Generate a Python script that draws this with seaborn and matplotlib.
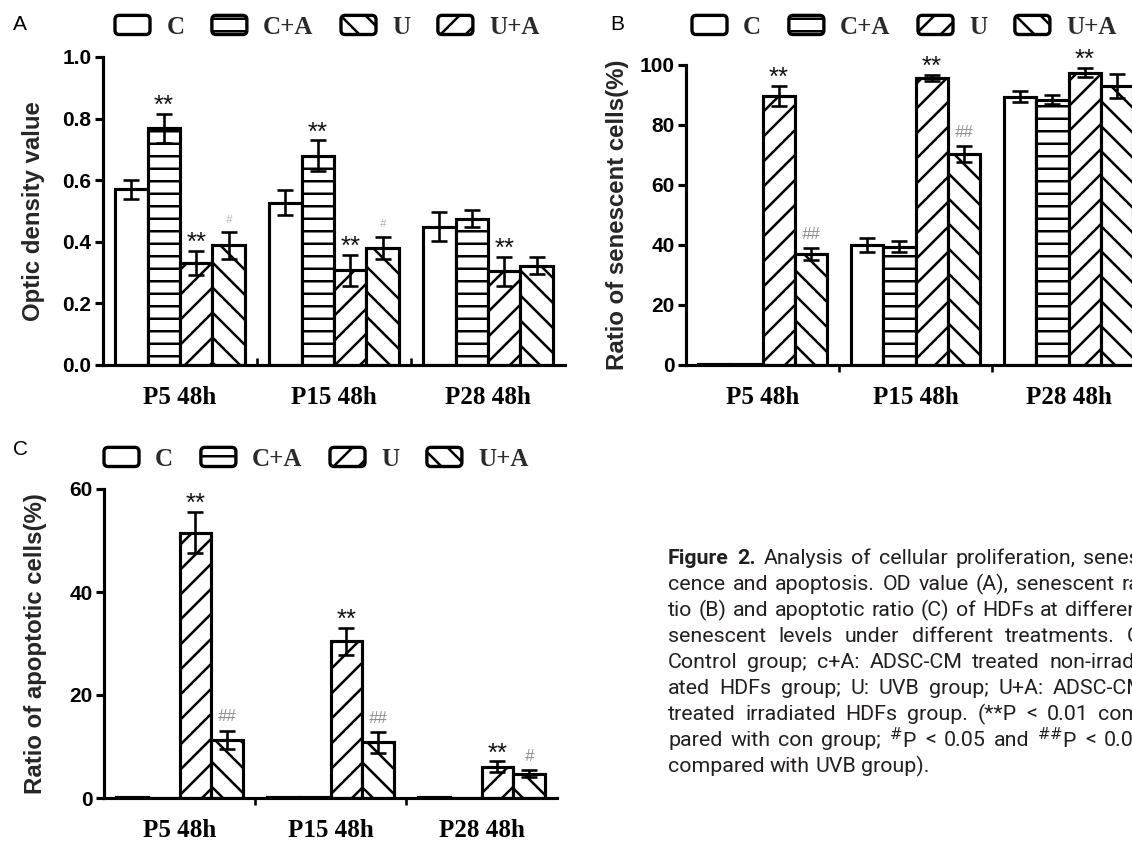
import numpy as np
import pandas as pd
import seaborn as sns
import matplotlib.pyplot as plt
import matplotlib.patches as mpatches
from matplotlib.legend_handler import HandlerPatch
from matplotlib.ticker import FormatStrFormatter

groups = ["P5 48h", "P15 48h", "P28 48h"]
treatments = ["C", "C+A", "U", "U+A"]

# rows = groups, columns = treatments
od_mean = [[0.570, 0.768, 0.331, 0.388],
           [0.527, 0.679, 0.308, 0.380],
           [0.449, 0.475, 0.304, 0.323]]
od_err = [[0.030, 0.047, 0.040, 0.044],
          [0.040, 0.050, 0.050, 0.036],
          [0.048, 0.028, 0.047, 0.028]]
od_marks = [["", "**", "**", "#"],
            ["", "**", "**", "#"],
            ["", "", "**", ""]]

sen_mean = [[0.3, 0.2, 89.7, 36.9],
            [40.0, 39.5, 95.8, 70.3],
            [89.4, 88.5, 97.4, 93.0]]
sen_err = [[0.0, 0.0, 3.3, 2.0],
           [2.4, 1.8, 1.0, 2.6],
           [1.8, 1.5, 1.5, 4.0]]
sen_marks = [["", "", "**", "##"],
             ["", "", "**", "##"],
             ["", "", "**", ""]]

apo_mean = [[0.2, 0.0, 51.5, 11.3],
            [0.2, 0.2, 30.4, 10.8],
            [0.2, 0.0, 6.1, 4.7]]
apo_err = [[0.0, 0.0, 4.0, 1.8],
           [0.0, 0.0, 2.6, 2.0],
           [0.0, 0.0, 1.0, 0.7]]
apo_marks = [["", "", "**", "##"],
             ["", "", "**", "##"],
             ["", "", "**", "#"]]

bar_hatches = ["", "-", "/", "\\"]

cap_lines = [
    "Figure 2. Analysis of cellular proliferation, senes-",
    "cence and apoptosis. OD value (A), senescent ra-",
    "tio (B) and apoptotic ratio (C) of HDFs at different",
    "senescent levels under different treatments. C:",
    "Control group; c+A: ADSC-CM treated non-irradi-",
    "ated HDFs group; U: UVB group; U+A: ADSC-CM",
    "treated irradiated HDFs group. (**P < 0.01 com-",
    "pared with con group; #P < 0.05 and ##P < 0.01",
    "compared with UVB group).",
]

sns.set_theme(style="ticks", rc={"axes.edgecolor": "black", "xtick.color": "black",
                                 "ytick.color": "black", "text.color": "black"})
plt.rcParams["font.family"] = ["Liberation Sans", "DejaVu Sans"]
plt.rcParams["hatch.linewidth"] = 2.4

W, H = 1132, 846
fig = plt.figure(figsize=(W / 75, H / 75), dpi=75)


class RoundBox(HandlerPatch):
    def create_artists(self, legend, orig_handle, xdescent, ydescent, width, height,
                       fontsize, trans):
        box = mpatches.FancyBboxPatch((-xdescent, -ydescent), width, height,
                                      boxstyle="round,pad=0,rounding_size=4",
                                      facecolor="white", edgecolor="black", linewidth=3.2,
                                      hatch=orig_handle.get_hatch(), transform=trans)
        return [box]


def long_table(means):
    rows = []
    for g, vals in zip(groups, means):
        for t, v in zip(treatments, vals):
            rows.append({"group": g, "treatment": t, "value": v})
    return pd.DataFrame(rows)


def draw_panel(rect, means, errs, marks, ylim, yticks, ylabel, minor_dir, fmt=None,
               hash_size=16, hash_color="#8c8c8c"):
    ax = fig.add_axes(rect)
    df = long_table(means)
    sns.barplot(data=df, x="group", y="value", hue="treatment", order=groups,
                hue_order=treatments, palette=["white"] * 4, saturation=1,
                edgecolor="black", linewidth=3, width=0.84, gap=0,
                errorbar=None, legend=False, ax=ax)
    bar_conts = list(ax.containers)
    for i, cont in enumerate(bar_conts):
        for j, bar in enumerate(cont):
            bar.set_hatch(bar_hatches[i])
            x = bar.get_x() + bar.get_width() / 2
            m, e = means[j][i], errs[j][i]
            if e > 0:
                ax.errorbar(x, m, yerr=e, fmt="none", ecolor="black", elinewidth=2.5,
                            capsize=8, capthick=2.5, clip_on=False, zorder=4)
            mk = marks[j][i]
            if not mk:
                continue
            if mk.startswith("*"):
                ax.annotate(mk, (x, m + e), xytext=(0, 1), textcoords="offset points",
                            ha="center", va="baseline", fontsize=25, color="#111111",
                            annotation_clip=False)
            else:
                ax.annotate(mk, (x, m + e), xytext=(0, 9), textcoords="offset points",
                            ha="center", va="baseline", fontsize=hash_size,
                            color=hash_color, fontstyle="italic", annotation_clip=False)
    ax.set_xlim(-0.5, 2.5)
    ax.set_ylim(*ylim)
    ax.set_yticks(yticks)
    if fmt:
        ax.yaxis.set_major_formatter(FormatStrFormatter(fmt))
    ax.set_xlabel("")
    ax.set_ylabel(ylabel, fontsize=23, fontweight="bold")
    ax.yaxis.set_label_coords(-0.125, 0.5)
    sns.despine(ax=ax)
    for s in ["left", "bottom"]:
        ax.spines[s].set_linewidth(3)
    ax.tick_params(axis="y", length=8, width=3, labelsize=20, pad=3)
    ax.tick_params(axis="x", which="major", length=0, pad=20, labelsize=24)
    ax.set_xticks([0.5, 1.5], minor=True)
    ax.tick_params(axis="x", which="minor", length=7, width=2.5, direction=minor_dir)
    for lab in ax.get_xticklabels():
        lab.set_fontfamily("Liberation Serif")
        lab.set_fontweight("bold")
    for lab in ax.get_yticklabels():
        lab.set_fontweight("bold")
    return ax


def add_legend(xy, hatches):
    handles = [mpatches.Patch(facecolor="white", edgecolor="black", hatch=h) for h in hatches]
    fig.legend(handles, treatments, loc="center left", bbox_to_anchor=xy,
               bbox_transform=fig.transFigure, ncol=4, frameon=False,
               handler_map={mpatches.Patch: RoundBox()},
               prop=dict(family="Liberation Serif", weight="bold", size=24),
               labelcolor="#2a2a2a", handlelength=1.4, handleheight=0.8,
               handletextpad=0.65, columnspacing=1.1, borderpad=0, borderaxespad=0)


draw_panel([103 / W, 1 - 365 / H, 462 / W, 308 / H], od_mean, od_err, od_marks,
           (0, 1.0), [0, 0.2, 0.4, 0.6, 0.8, 1.0], "Optic density value", "in", "%.1f",
           hash_size=11, hash_color="#b5b5b5")
draw_panel([686 / W, 1 - 365 / H, 459 / W, 300 / H], sen_mean, sen_err, sen_marks,
           (0, 100), [0, 20, 40, 60, 80, 100], "Ratio of senescent cells(%)", "out")
draw_panel([104 / W, 1 - 798 / H, 453 / W, 309 / H], apo_mean, apo_err, apo_marks,
           (0, 60), [0, 20, 40, 60], "Ratio of apoptotic cells(%)", "out")

# panel A legend shows the two UV hatches the other way round
add_legend((115 / W, 1 - 27 / H), ["", "-", "\\", "/"])
add_legend((692 / W, 1 - 27 / H), ["", "-", "/", "\\"])
add_legend((104 / W, 1 - 459 / H), ["", "-", "/", "\\"])

for letter, x, y in [("A", 13, 24), ("B", 610, 24), ("C", 13, 449)]:
    fig.text(x / W, 1 - y / H, letter, ha="left", va="center", fontsize=20)

# justified caption block
renderer = fig.canvas.get_renderer()
x0, x1, y0, dy = 668, 1146, 558, 26
cap_family = ["Liberation Sans Narrow", "Roboto", "DejaVu Sans"]


def token_text(tok):
    if tok.startswith("#") and tok.endswith("P"):
        return "$^{" + "\\#" * tok.count("#") + "}$P"
    return tok


def width_of(s, **kw):
    t = fig.text(0, 0, s, **kw)
    w = t.get_window_extent(renderer).width
    t.remove()
    return w


# largest size at which every line still fits with ordinary spaces
cap_size = 22
while cap_size > 14:
    kw = dict(fontsize=cap_size, family=cap_family)
    sp = width_of("a a", **kw) - width_of("aa", **kw)
    longest = max(width_of(token_text(ln), **kw) if "#" not in ln else
                  sum(width_of(token_text(t), **kw) for t in ln.split(" ")) + sp * ln.count(" ")
                  for ln in cap_lines[1:])
    first = width_of("Figure 2.", weight="bold", **kw) + sp + width_of(cap_lines[0][10:], **kw)
    if max(longest, first) <= (x1 - x0):
        break
    cap_size -= 0.5

cap_kw = dict(fontsize=cap_size, color="#231f20", family=cap_family)
space_w = width_of("a a", **cap_kw) - width_of("aa", **cap_kw)
for li, line in enumerate(cap_lines):
    toks = [token_text(t) for t in line.split(" ")]
    weights = ["bold" if (li == 0 and k < 2) else "normal" for k in range(len(toks))]
    widths = [width_of(t, weight=w, **cap_kw) for t, w in zip(toks, weights)]
    if li < len(cap_lines) - 1:
        gap = (x1 - x0 - sum(widths)) / (len(toks) - 1)
    else:
        gap = space_w
    x = x0
    y = y0 + li * dy
    for t, w, wd in zip(toks, weights, widths):
        fig.text(x / W, 1 - y / H, t, ha="left", va="center", weight=w, **cap_kw)
        x += wd + gap

fig.savefig("out.png", dpi=75)
